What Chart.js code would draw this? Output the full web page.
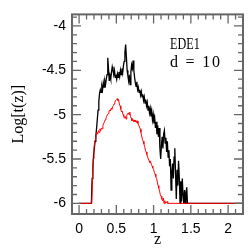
<!DOCTYPE html>
<html>
<head>
<meta charset="utf-8">
<script src="https://cdn.jsdelivr.net/npm/chart.js@4/dist/chart.umd.min.js"></script>
<style>
  html, body { margin: 0; padding: 0; background: #fff; }
  #wrap { width: 249px; height: 249px; }
</style>
</head>
<body>
<div id="wrap"><canvas id="chart" width="249" height="249"></canvas></div>
<script>
// black curve (upper)
const blackZ = [0, 0.165, 0.175, 0.185, 0.195, 0.205, 0.215, 0.225, 0.235, 0.245, 0.255, 0.265, 0.275, 0.285, 0.295,
  0.305, 0.315, 0.325, 0.335, 0.345, 0.355, 0.365, 0.375, 0.385, 0.395, 0.405, 0.415, 0.425, 0.435, 0.445, 0.455,
  0.465, 0.475, 0.485, 0.495, 0.505, 0.515, 0.525, 0.535, 0.545, 0.555, 0.565, 0.575, 0.585, 0.595, 0.605, 0.615,
  0.625, 0.635, 0.645, 0.655, 0.665, 0.675, 0.685, 0.695, 0.705, 0.715, 0.725, 0.735, 0.745, 0.755, 0.765, 0.775,
  0.785, 0.795, 0.805, 0.815, 0.825, 0.835, 0.845, 0.855, 0.865, 0.875, 0.885, 0.895, 0.905, 0.915, 0.925, 0.935,
  0.945, 0.955, 0.965, 0.975, 0.985, 0.995, 1.005, 1.015, 1.025, 1.035, 1.045, 1.055, 1.065, 1.075, 1.085, 1.095,
  1.105, 1.115, 1.125, 1.135, 1.145, 1.155, 1.165, 1.175, 1.185, 1.195, 1.205, 1.215, 1.225, 1.235, 1.245, 1.255,
  1.265, 1.275, 1.285, 1.295, 1.305, 1.315, 1.325, 1.335, 1.345, 1.355, 1.365, 1.375, 1.385, 1.395, 1.405, 1.415,
  1.425, 1.435, 1.445, 1.455, 1.47, 2.2];
const blackLog = [-6, -6, -5.72, -5.6, -5.45, -5.38, -5.3, -5.24, -5.15, -5.05, -4.95, -4.85, -4.76, -4.72, -4.75,
  -4.68, -4.72, -4.64, -4.69, -4.62, -4.66, -4.6, -4.55, -4.36, -4.48, -4.62, -4.56, -4.6, -4.52, -4.46, -4.5,
  -4.55, -4.5, -4.58, -4.55, -4.6, -4.54, -4.58, -4.52, -4.57, -4.5, -4.55, -4.48, -4.53, -4.45, -4.4, -4.3,
  -4.21, -4.35, -4.5, -4.56, -4.62, -4.55, -4.66, -4.52, -4.44, -4.48, -4.39, -4.5, -4.58, -4.64, -4.68, -4.63,
  -4.72, -4.69, -4.75, -4.72, -4.78, -4.74, -4.8, -4.77, -4.84, -4.8, -4.87, -4.83, -4.9, -4.86, -4.95, -4.9,
  -4.98, -4.93, -5.02, -4.96, -5.06, -5.0, -5.1, -5.04, -5.15, -5.08, -5.22, -5.12, -5.25, -5.15, -5.38, -5.5,
  -5.35, -5.25, -5.38, -5.22, -5.18, -5.32, -5.26, -5.42, -5.3, -5.48, -5.4, -5.58, -5.5, -5.85, -5.65, -5.55,
  -5.72, -5.48, -5.38, -5.68, -5.95, -5.62, -5.8, -5.52, -5.7, -6, -5.75, -5.98, -5.72, -5.9, -6, -5.85,
  -6, -5.88, -5.82, -6, -6, -6];

// red curve (lower)
const redZ = [0, 0.17, 0.18, 0.19, 0.2, 0.21, 0.22, 0.23, 0.24, 0.25, 0.26, 0.27, 0.28, 0.29, 0.3, 0.31, 0.32, 0.33,
  0.34, 0.35, 0.36, 0.37, 0.38, 0.39, 0.4, 0.41, 0.42, 0.43, 0.44, 0.45, 0.46, 0.47, 0.48, 0.49, 0.5, 0.51, 0.52,
  0.53, 0.54, 0.55, 0.56, 0.57, 0.58, 0.59, 0.6, 0.61, 0.62, 0.63, 0.64, 0.65, 0.66, 0.67, 0.68, 0.69, 0.7, 0.71,
  0.72, 0.73, 0.74, 0.75, 0.76, 0.77, 0.78, 0.79, 0.8, 0.81, 0.82, 0.83, 0.84, 0.85, 0.86, 0.87, 0.88, 0.89, 0.9,
  0.91, 0.92, 0.93, 0.94, 0.95, 0.96, 0.97, 0.98, 0.99, 1.0, 1.01, 1.02, 1.03, 1.04, 1.05, 1.06, 1.07, 1.08, 1.09,
  1.1, 1.11, 1.12, 1.13, 1.14, 1.15, 1.16, 1.18, 1.19, 2.2];
const redLog = [-6, -6, -5.75, -5.5, -5.38, -5.3, -5.28, -5.22, -5.2, -5.22, -5.18, -5.2, -5.16, -5.18, -5.15, -5.16,
  -5.12, -5.1, -5.08, -5.06, -5.04, -5.02, -5.0, -4.99, -4.97, -4.95, -4.96, -4.93, -4.94, -4.91, -4.9, -4.88, -4.86,
  -4.84, -4.83, -4.82, -4.84, -4.83, -4.88, -4.9, -4.94, -4.97, -4.96, -5.0, -5.02, -5.04, -5.02, -5.05, -5.01,
  -4.99, -4.98, -5.0, -4.97, -5.02, -5.04, -5.07, -5.05, -5.08, -5.06, -5.08, -5.06, -5.09, -5.07, -5.1, -5.12,
  -5.14, -5.16, -5.2, -5.24, -5.28, -5.3, -5.33, -5.36, -5.4, -5.42, -5.45, -5.48, -5.5, -5.52, -5.54, -5.53,
  -5.56, -5.58, -5.6, -5.62, -5.65, -5.67, -5.7, -5.72, -5.76, -5.8, -5.83, -5.86, -5.9, -5.92, -5.95, -5.97,
  -5.94, -6, -5.97, -6, -5.98, -6, -6];

const xTicks = [0, 0.5, 1, 1.5, 2];
const yTicks = [-6, -5.5, -5, -4.5, -4];
const labelLines = ['EDE1', 'd = 10'];

function toPoints(xs, ys) {
  return xs.map((x, i) => ({ x: x, y: ys[i] }));
}

// 枠と内向きの目盛りを描く
const frameTicks = {
  id: 'frameTicks',
  afterDraw(chart) {
    const { ctx, chartArea: a, scales } = chart;
    const xs = scales.x, ys = scales.y;
    ctx.save();
    ctx.strokeStyle = '#666';
    ctx.lineWidth = 1.3;
    ctx.beginPath();
    for (let k = 0; k <= 22; k++) {
      const v = k / 10;
      const px = xs.getPixelForValue(v);
      const len = k % 5 === 0 ? 9 : 5;
      ctx.moveTo(px, a.bottom); ctx.lineTo(px, a.bottom - len);
      ctx.moveTo(px, a.top); ctx.lineTo(px, a.top + len);
    }
    for (let k = 0; k <= 21; k++) {
      const v = -6 + k / 10;
      const py = ys.getPixelForValue(v);
      const len = k % 5 === 0 ? 9 : 5;
      ctx.moveTo(a.left, py); ctx.lineTo(a.left + len, py);
      ctx.moveTo(a.right, py); ctx.lineTo(a.right - len, py);
    }
    ctx.stroke();
    ctx.lineWidth = 2;
    ctx.strokeRect(a.left, a.top, a.right - a.left, a.bottom - a.top);

    // 右上のラベル（細身の字体に寄せる）
    ctx.fillStyle = '#000';
    ctx.font = '16px "Liberation Serif"';
    ctx.textBaseline = 'alphabetic';
    ctx.save();
    ctx.translate(170, 49);
    ctx.scale(0.76, 1);
    ctx.fillText(labelLines[0], 0, 0);
    ctx.restore();
    ctx.letterSpacing = '1.8px';
    ctx.fillText(labelLines[1], 170, 67);
    ctx.restore();
  }
};

new Chart(document.getElementById('chart'), {
  type: 'scatter',
  data: {
    datasets: [
      {
        label: 'black',
        data: toPoints(blackZ, blackLog),
        showLine: true,
        borderColor: '#000',
        borderWidth: 1.3,
        pointRadius: 0,
        order: 2
      },
      {
        label: 'red',
        data: toPoints(redZ, redLog),
        showLine: true,
        borderColor: '#f00',
        borderWidth: 1,
        pointRadius: 0,
        order: 1
      }
    ]
  },
  options: {
    responsive: false,
    animation: false,
    layout: { padding: { top: 5, right: 6, left: 0, bottom: 0 } },
    plugins: { legend: { display: false }, tooltip: { enabled: false } },
    scales: {
      x: {
        type: 'linear',
        min: -0.095,
        max: 2.2,
        afterBuildTicks: (s) => { s.ticks = xTicks.map((v) => ({ value: v })); },
        afterFit: (s) => { s.height = 35; },
        grid: { display: false, drawTicks: false },
        border: { display: false },
        ticks: {
          color: '#000',
          padding: 7,
          maxRotation: 0,
          font: { family: '"Liberation Sans"', size: 14 },
          callback: (v) => String(v)
        },
        title: {
          display: true,
          text: 'z',
          color: '#000',
          padding: { top: 0, bottom: 0 },
          font: { family: '"Liberation Serif"', size: 16 }
        }
      },
      y: {
        type: 'linear',
        min: -6.12,
        max: -3.87,
        afterBuildTicks: (s) => { s.ticks = yTicks.map((v) => ({ value: v })); },
        afterFit: (s) => { s.width = 72; },
        grid: { display: false, drawTicks: false },
        border: { display: false },
        ticks: {
          color: '#000',
          padding: 6,
          font: { family: '"Liberation Sans"', size: 14 },
          callback: (v) => String(v)
        },
        title: {
          display: true,
          text: 'Log[t(z)]',
          color: '#000',
          padding: { top: 9, bottom: 0 },
          font: { family: '"Liberation Serif"', size: 16 }
        }
      }
    }
  },
  plugins: [frameTicks]
});
</script>
</body>
</html>
